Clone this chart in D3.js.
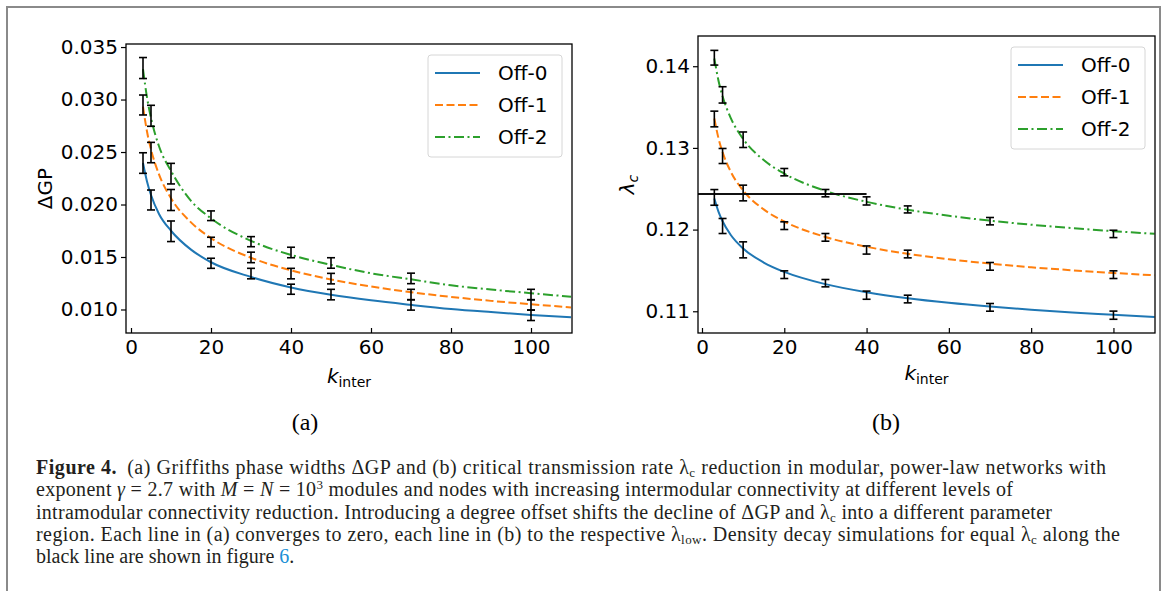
<!DOCTYPE html>
<html>
<head>
<meta charset="utf-8">
<script src="https://cdn.jsdelivr.net/npm/d3@7"></script>
<style>
  body { margin: 0; background: #fff; }
</style>
</head>
<body>
<div id="fig"></div>
<script>
// ---- data ----
var kInter = [3, 5, 10, 20, 30, 40, 50, 70, 100];
var seriesNames = ["Off-0", "Off-1", "Off-2"];

// (a) Griffiths phase width, points + error bars
var gpOff0 = [0.02395, 0.02043, 0.01745, 0.01440, 0.01342, 0.01193, 0.01142, 0.01044, 0.00945];
var gpOff0Err = [0.00098, 0.00095, 0.00098, 0.00048, 0.0005, 0.00048, 0.0005, 0.0005, 0.0005];
var gpOff1 = [0.02948, 0.02495, 0.02043, 0.01643, 0.01496, 0.01342, 0.01294, 0.01142, 0.01044];
var gpOff1Err = [0.00095, 0.00097, 0.001, 0.00045, 0.0005, 0.0005, 0.0005, 0.0005, 0.0005];
var gpOff2 = [0.0330, 0.02845, 0.02294, 0.01893, 0.01646, 0.01543, 0.01443, 0.01296, 0.01142];
var gpOff2Err = [0.001, 0.001, 0.00098, 0.00046, 0.00048, 0.0005, 0.0005, 0.0005, 0.0005];

// fitted curves
var kFit = [3, 4, 5, 7, 10, 15, 20, 30, 40, 50, 60, 70, 80, 90, 100, 110];
var gpFit0 = [0.02395, 0.0222, 0.0209, 0.0191, 0.0175, 0.0157, 0.0145, 0.0131, 0.0121, 0.0114, 0.01087, 0.01044, 0.01005, 0.00975, 0.00948, 0.00925];
var gpFit1 = [0.02932, 0.02695, 0.02525, 0.02287, 0.0206, 0.0183, 0.0168, 0.01493, 0.01373, 0.01286, 0.01219, 0.01165, 0.0112, 0.01082, 0.0105, 0.0102];
var gpFit2 = [0.0329, 0.0302, 0.02825, 0.02555, 0.0232, 0.02035, 0.01868, 0.01654, 0.0152, 0.01425, 0.01345, 0.01287, 0.0123, 0.0119, 0.01155, 0.01122];

// (b) critical transmission rate
var lamOff0 = [0.12394, 0.12044, 0.11752, 0.11448, 0.11344, 0.11197, 0.1115, 0.11048, 0.10952];
var lamOff0Err = [0.00096, 0.00092, 0.00098, 0.00047, 0.00045, 0.0005, 0.00047, 0.00047, 0.0005];
var lamOff1 = [0.13354, 0.12901, 0.12448, 0.12048, 0.11905, 0.1175, 0.11701, 0.1155, 0.11448];
var lamOff1Err = [0.00096, 0.00092, 0.00096, 0.00047, 0.00047, 0.0005, 0.00047, 0.00047, 0.00047];
var lamOff2 = [0.14104, 0.13649, 0.131, 0.12703, 0.12446, 0.12351, 0.12247, 0.12103, 0.11947];
var lamOff2Err = [0.0009, 0.001, 0.00095, 0.00045, 0.00045, 0.0005, 0.00043, 0.00045, 0.00045];

var lamFit0 = [0.1238, 0.1222, 0.12102, 0.11934, 0.11769, 0.11597, 0.11482, 0.11332, 0.11233, 0.1116, 0.11104, 0.11058, 0.11019, 0.10985, 0.10958, 0.1093];
var lamFit1 = [0.1336, 0.1312, 0.12948, 0.12708, 0.12479, 0.12247, 0.12099, 0.1191, 0.1179, 0.11703, 0.11637, 0.11584, 0.11539, 0.11502, 0.11469, 0.1144];
var lamFit2 = [0.14094, 0.13826, 0.13633, 0.13365, 0.1311, 0.12851, 0.12685, 0.12474, 0.1234, 0.12243, 0.12169, 0.12109, 0.1206, 0.12018, 0.11981, 0.11949];

// black reference line in (b)
var refLineK = [-1, 40];
var refLineLam = 0.12435;

// ticks
var xTicks = [0, 20, 40, 60, 80, 100];
var gpTicks = [0.010, 0.015, 0.020, 0.025, 0.030, 0.035];
var lamTicks = [0.11, 0.12, 0.13, 0.14];

var colors = ["#1f77b4", "#ff7f0e", "#2ca02c"];
var dashes = [null, "8,3.5", "10,3.5,2,3.5"];

var W = 1165, H = 591;
var svg = d3.select("#fig").append("svg").attr("width", W).attr("height", H);

// grey page frame
svg.append("path").attr("d", "M7,591V7H1160V591")
  .attr("fill", "none").attr("stroke", "#8a8a8a").attr("stroke-width", 2);

function zip(xs, ys) { return xs.map(function(v, i) { return [v, ys[i]]; }); }

function panel(o) {
  var x = d3.scaleLinear().domain(o.xDom).range([o.left, o.right]);
  var y = d3.scaleLinear().domain(o.yDom).range([o.bottom, o.top]);
  var g = svg.append("g");

  g.append("clipPath").attr("id", "clip" + o.id)
    .append("rect").attr("x", o.left).attr("y", o.top)
    .attr("width", o.right - o.left).attr("height", o.bottom - o.top);

  var plot = g.append("g").attr("clip-path", "url(#clip" + o.id + ")");
  var line = d3.line().x(function(d){ return x(d[0]); }).y(function(d){ return y(d[1]); })
    .curve(d3.curveMonotoneX);

  o.fits.forEach(function(f, i) {
    plot.append("path").datum(zip(kFit, f))
      .attr("d", line).attr("fill", "none")
      .attr("stroke", colors[i]).attr("stroke-width", 2)
      .attr("stroke-dasharray", dashes[i]);
  });

  if (o.ref) {
    plot.append("line")
      .attr("x1", x(refLineK[0])).attr("x2", x(refLineK[1]))
      .attr("y1", y(refLineLam)).attr("y2", y(refLineLam))
      .attr("stroke", "#111").attr("stroke-width", 2);
  }

  // error bars
  o.means.forEach(function(m, i) {
    var pts = kInter.map(function(k, j) { return {k: k, m: m[j], e: o.errs[i][j]}; });
    var eb = plot.append("g").selectAll("g").data(pts).enter().append("g")
      .attr("stroke", "#000").attr("stroke-width", 1.6);
    eb.append("line")
      .attr("x1", function(d){ return x(d.k); }).attr("x2", function(d){ return x(d.k); })
      .attr("y1", function(d){ return y(d.m - d.e); }).attr("y2", function(d){ return y(d.m + d.e); });
    [-1, 1].forEach(function(s) {
      eb.append("line")
        .attr("x1", function(d){ return x(d.k) - 4; }).attr("x2", function(d){ return x(d.k) + 4; })
        .attr("y1", function(d){ return y(d.m + s * d.e); }).attr("y2", function(d){ return y(d.m + s * d.e); });
    });
  });

  // axes
  var xa = g.append("g").attr("transform", "translate(0," + o.bottom + ")")
    .call(d3.axisBottom(x).tickValues(xTicks).tickSize(-5).tickPadding(7).tickFormat(d3.format("d")));
  var ya = g.append("g").attr("transform", "translate(" + o.left + ",0)")
    .call(d3.axisLeft(y).tickValues(o.yTicks).tickSize(5).tickPadding(3).tickFormat(d3.format(o.yFmt)));
  [xa, ya].forEach(function(a) {
    a.select(".domain").remove();
    a.attr("font-family", "DejaVu Sans").attr("font-size", 20);
    a.selectAll(".tick line").attr("stroke", "#000").attr("stroke-width", 1.2);
    a.selectAll(".tick text").attr("fill", "#000");
  });

  g.append("rect").attr("x", o.left).attr("y", o.top)
    .attr("width", o.right - o.left).attr("height", o.bottom - o.top)
    .attr("fill", "none").attr("stroke", "#000").attr("stroke-width", 1.3);

  // legend
  var lw = 134, lh = 102;
  var lg = g.append("g").attr("transform", "translate(" + (o.right - 10 - lw) + "," + (o.top + 11) + ")");
  lg.append("rect").attr("width", lw).attr("height", lh).attr("rx", 3)
    .attr("fill", "#fff").attr("fill-opacity", 0.8).attr("stroke", "#d6d6d6");
  seriesNames.forEach(function(n, i) {
    var yy = 18 + i * 32;
    lg.append("line").attr("x1", 7).attr("x2", 52).attr("y1", yy).attr("y2", yy)
      .attr("stroke", colors[i]).attr("stroke-width", 2).attr("stroke-dasharray", dashes[i]);
    lg.append("text").attr("x", 70).attr("y", yy).attr("dy", "0.36em")
      .attr("font-family", "DejaVu Sans").attr("font-size", 20).text(n);
  });

  // x label k_inter
  var xl = g.append("text").attr("x", (o.left + o.right) / 2).attr("y", o.xLabelY)
    .attr("text-anchor", "middle").attr("font-family", "DejaVu Sans").attr("font-size", 20);
  xl.append("tspan").attr("font-style", "oblique").text("k");
  xl.append("tspan").attr("font-size", 14).attr("dy", 4).text("inter");

  // y label
  var yl = g.append("text")
    .attr("transform", "translate(" + o.yLabelX + "," + ((o.top + o.bottom) / 2) + ") rotate(-90)")
    .attr("text-anchor", "middle").attr("font-family", "DejaVu Sans").attr("font-size", 20);
  o.yLabel.forEach(function(s) {
    var t = yl.append("tspan").text(s.t);
    if (s.i) t.attr("font-style", "oblique");
    if (s.sub) t.attr("font-size", 14).attr("dy", 4);
  });

  // sub-figure tag
  svg.append("text").attr("x", o.tagX).attr("y", 430).attr("text-anchor", "middle")
    .attr("font-family", "Liberation Serif").attr("font-size", 24).text(o.tag);
}

panel({
  id: "a", left: 126, right: 572, top: 44, bottom: 333,
  xDom: [-1.25, 110.25], yDom: [0.00776, 0.03529],
  yTicks: gpTicks, yFmt: ".3f",
  means: [gpOff0, gpOff1, gpOff2], errs: [gpOff0Err, gpOff1Err, gpOff2Err],
  fits: [gpFit0, gpFit1, gpFit2],
  yLabel: [{t: "\u0394GP"}], yLabelX: 52, xLabelY: 383,
  tag: "(a)", tagX: 305
});

panel({
  id: "b", left: 698, right: 1155, top: 36, bottom: 333,
  xDom: [-0.97, 110.1], yDom: [0.10734, 0.1437],
  yTicks: lamTicks, yFmt: ".2f",
  means: [lamOff0, lamOff1, lamOff2], errs: [lamOff0Err, lamOff1Err, lamOff2Err],
  fits: [lamFit0, lamFit1, lamFit2], ref: true,
  yLabel: [{t: "\u03bb", i: 1}, {t: "c", i: 1, sub: 1}], yLabelX: 634, xLabelY: 380,
  tag: "(b)", tagX: 886
});

// ---- caption ----
var capLines = [
  [{t: "Figure 4.", b: 1}, {t: "(a) Griffiths phase widths \u0394GP and (b) critical transmission rate \u03bb", dx: 10},
   {t: "c", sub: 1}, {t: " reduction in modular, power-law networks with"}],
  [{t: "exponent "}, {t: "\u03b3", i: 1}, {t: " = 2.7 with "}, {t: "M", i: 1}, {t: " = "}, {t: "N", i: 1},
   {t: " = 10"}, {t: "3", sup: 1}, {t: " modules and nodes with increasing intermodular connectivity at different levels of"}],
  [{t: "intramodular connectivity reduction. Introducing a degree offset shifts the decline of \u0394GP and \u03bb"},
   {t: "c", sub: 1}, {t: " into a different parameter"}],
  [{t: "region. Each line in (a) converges to zero, each line in (b) to the respective \u03bb"}, {t: "low", sub: 1},
   {t: ". Density decay simulations for equal \u03bb"}, {t: "c", sub: 1}, {t: " along the"}],
  [{t: "black line are shown in figure "}, {t: "6", color: "#1a8fd6"}, {t: "."}]
];
// widths of the set lines in the reference (last line is left natural)
var capWidths = [1070, 977, 1016, 1084, null];

var capG = svg.append("g").attr("font-family", "Liberation Serif").attr("font-size", 20)
  .attr("fill", "#231f20").style("white-space", "pre");
capLines.forEach(function(segs, li) {
  var txt = capG.append("text").attr("x", 36).attr("y", 474 + li * 22.3);
  if (capWidths[li]) txt.attr("textLength", capWidths[li]).attr("lengthAdjust", "spacing");
  var shift = 0;
  segs.forEach(function(s) {
    var want = s.sub ? 3 : (s.sup ? -7 : 0);
    var ts = txt.append("tspan").text(s.t).attr("dy", want - shift);
    shift = want;
    if (s.sub || s.sup) ts.attr("font-size", 13);
    if (s.b) ts.attr("font-weight", "bold");
    if (s.i) ts.attr("font-style", "italic");
    if (s.dx) ts.attr("dx", s.dx);
    if (s.color) ts.attr("fill", s.color);
  });
});
</script>
</body>
</html>
